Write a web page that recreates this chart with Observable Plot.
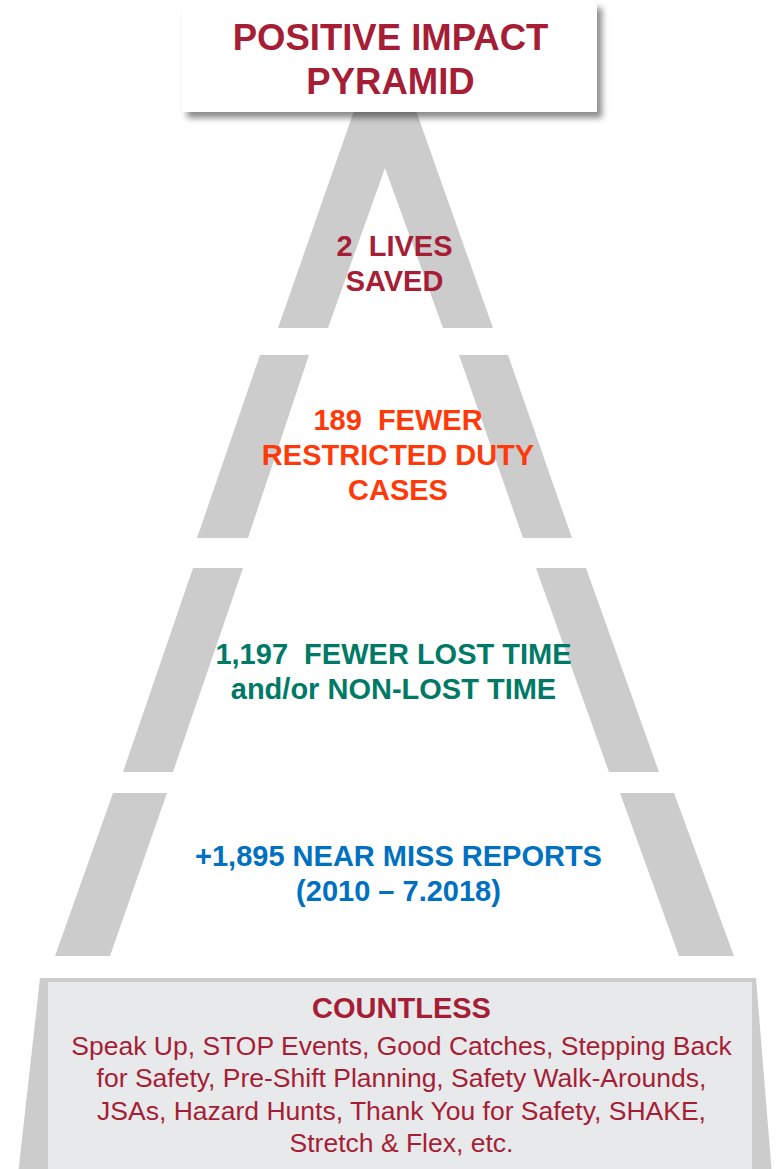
<!DOCTYPE html>
<html><head><meta charset="utf-8">
<script src="https://cdn.jsdelivr.net/npm/d3@7"></script>
<script src="https://cdn.jsdelivr.net/npm/@observablehq/plot@0.6"></script>
<style>
html,body{margin:0;padding:0;background:#fff;}
#chart svg{display:block;}
</style></head><body><div id="chart"></div>
<script>
// ---- content ----
const titleLines = ["POSITIVE IMPACT", "PYRAMID"];
const tierNames = ["lives", "restricted", "losttime", "nearmiss", "countless"];
const tierHeadlines = [
  ["2\u00a0\u00a0LIVES", "SAVED"],
  ["189\u00a0\u00a0FEWER", "RESTRICTED DUTY", "CASES"],
  ["1,197\u00a0\u00a0FEWER LOST TIME", "and/or NON-LOST TIME"],
  ["+1,895 NEAR MISS REPORTS", "(2010 \u2013 7.2018)"],
  ["COUNTLESS"]
];
const countlessItems = [
  "Speak Up, STOP Events, Good Catches, Stepping Back",
  "for Safety, Pre-Shift Planning, Safety Walk-Arounds,",
  "JSAs, Hazard Hunts, Thank You for Safety, SHAKE,",
  "Stretch & Flex, etc."
];
const tierColors = ["#A51E36", "#FF3A0A", "#007A66", "#0070C0", "#A51E36"];

// ---- diagram layout (px in a 776 x 1169 frame) ----
const tierTopY    = [105, 355, 568, 793, 978];
const tierBottomY = [328, 538, 772, 956, 1175];
const outerTopL = [356, 260, 193, 113, 40];
const outerTopR = [414, 508, 586, 674, 756];
const outerBotL = [278, 197, 123, 55, 18];
const outerBotR = [493, 572, 659, 734, 772];
const innerTopY = [168, 355, 568, 793];
const innerTopL = [385, 309, 243, 167];
const innerTopR = [385, 459, 536, 620];
const innerBotL = [328, 248, 173, 110];
const innerBotR = [443, 523, 609, 679];
const labelX = [394, 397.5, 393, 398, 401];
const labelY = [261.5, 453.2, 670, 872, 1008];
const titleBox = {x1: 182, x2: 597, y1: 2, y2: 112, cx: 390, cy: 57};
const countBox = {x1: 48, x2: 752, y1: 982, y2: 1175, cx: 401, cy: 1092.5};

const outerRows = tierNames.flatMap((t, i) => [
  {tier: t, y: tierTopY[i], x1: outerTopL[i], x2: outerTopR[i]},
  {tier: t, y: tierBottomY[i], x1: outerBotL[i], x2: outerBotR[i]}
]);
const innerRows = tierNames.slice(0, 4).flatMap((t, i) => [
  {tier: t, y: innerTopY[i], x1: innerTopL[i], x2: innerTopR[i]},
  {tier: t, y: tierBottomY[i], x1: innerBotL[i], x2: innerBotR[i]}
]);
const labels = tierNames.map((t, i) => ({
  tier: t, x: labelX[i], y: labelY[i], text: tierHeadlines[i].join("\n"), color: tierColors[i]
}));
const font = "'Liberation Sans', Arial, Helvetica, sans-serif";

const plot = Plot.plot({
  width: 776, height: 1169,
  margin: 0,
  x: {domain: [0, 776], range: [0, 776], axis: null},
  y: {domain: [0, 1169], range: [0, 1169], axis: null},
  style: {background: "#fff"},
  marks: [
    Plot.areaX(outerRows, {y: "y", x1: "x1", x2: "x2", z: "tier", fill: "#CCCCCC"}),
    Plot.areaX(innerRows, {y: "y", x1: "x1", x2: "x2", z: "tier", fill: "#FFFFFF"}),
    Plot.rect([countBox], {x1: "x1", x2: "x2", y1: "y1", y2: "y2", fill: "#E8E9EB"}),
    Plot.rect([titleBox], {x1: "x1", x2: "x2", y1: "y1", y2: "y2", fill: "#FFFFFF"}),
    Plot.text([titleBox], {x: "cx", y: "cy", text: () => titleLines.join("\n"), fill: tierColors[0],
      fontSize: 36.5, fontWeight: "bold", fontFamily: font, lineHeight: 1.22}),
    Plot.text(labels.slice(0, 4), {x: "x", y: "y", text: "text", fill: "color",
      fontSize: 29, fontWeight: "bold", fontFamily: font, lineHeight: 1.2}),
    Plot.text(labels.slice(4), {x: "x", y: "y", text: "text", fill: "color",
      fontSize: 29, fontWeight: "bold", fontFamily: font}),
    Plot.text([countBox], {x: "cx", y: "cy", text: () => countlessItems.join("\n"), fill: tierColors[4],
      fontSize: 26.5, fontFamily: font, lineHeight: 1.22})
  ]
});
// drop shadow on the title box
const rectGroups = plot.querySelectorAll('g[aria-label="rect"]');
if (rectGroups.length > 1) rectGroups[1].style.filter = "drop-shadow(5px 6px 3px rgba(0,0,0,0.45))";
document.getElementById("chart").appendChild(plot);
</script>
</body></html>
